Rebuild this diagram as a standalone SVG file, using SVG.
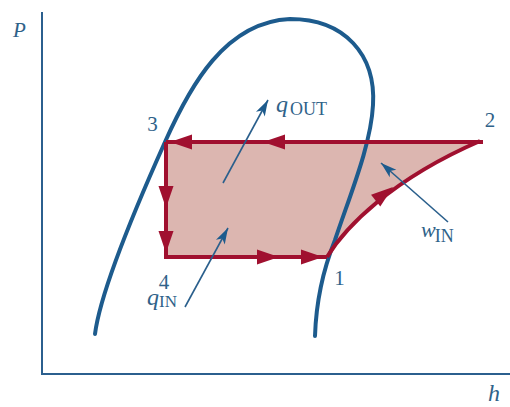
<svg xmlns="http://www.w3.org/2000/svg" xmlns:xlink="http://www.w3.org/1999/xlink" width="510" height="407" viewBox="0 0 510 407">
<style>
.axis{stroke:#2b5f8e;stroke-width:2;fill:none}
.dome{stroke:#1d5b8d;stroke-width:4;fill:none;stroke-linecap:round}
.cyc{stroke:#a0102f;stroke-width:4;fill:none;stroke-linejoin:miter}
.fill{fill:#dcb6b0;stroke:none}
.barrow{stroke:#2a5f8c;stroke-width:1.6;fill:none;marker-end:url(#bm)}
text{font-family:"Liberation Serif","Times New Roman",serif;fill:#2f6289}
.num{font-size:21px;text-anchor:middle}
.it{font-style:italic}
</style>
<defs>
<path id="ra" d="M0,0 L-22,-7.5 L-22,7.5 Z" fill="#a0102f"/>
<marker id="bm" viewBox="-17 -6 18 12" refX="0" refY="0" markerWidth="18" markerHeight="12" markerUnits="userSpaceOnUse" orient="auto">
<path d="M0,0 L-16,-5 L-12,0 L-16,5 Z" fill="#1d5b8d"/>
</marker>
</defs>
<g id="axes">
<line class="axis" x1="42" y1="12" x2="42" y2="375"/>
<line class="axis" x1="41" y1="374" x2="510" y2="374"/>
<text class="it" x="13" y="37" font-size="21">P</text>
<text class="it" x="488" y="401" font-size="24">h</text>
</g>
<g id="region">
<path class="fill" d="M166,142 L483,142 L480,141 C 390,180 345,228 327,257 L166,257 Z"/>
</g>
<g id="dome">
<path class="dome" d="M95,334 C 100,295 130,220 165,142 C 190,86 225,22 290,19 C 345,19 376,55 373,105 C 371,145 350,195 335,240 C 323,270 316,305 315,336"/>
</g>
<g id="connectors">
<path id="c32" class="cyc" d="M483,142 L166,142"/>
<path id="c34" class="cyc" d="M166,142 L166,257"/>
<path id="c41" class="cyc" d="M164,257 L327,257"/>
<path id="c12" class="cyc" d="M327,257 C 345,228 390,180 480,141"/>
<use href="#ra" transform="translate(170,142) rotate(180)"/>
<use href="#ra" transform="translate(263,142) rotate(180)"/>
<use href="#ra" transform="translate(166,208) rotate(90)"/>
<use href="#ra" transform="translate(166,253) rotate(90)"/>
<use href="#ra" transform="translate(279,257)"/>
<use href="#ra" transform="translate(323,257)"/>
<use href="#ra" transform="translate(393,187) rotate(-38)"/>
<line class="barrow" x1="223" y1="183" x2="268" y2="100"/>
<line class="barrow" x1="185" y1="307" x2="228" y2="228"/>
<line class="barrow" x1="448" y1="222" x2="381" y2="163"/>
</g>
<g id="node-1"><text class="num" x="339.5" y="285">1</text></g>
<g id="node-2"><text class="num" x="490" y="127">2</text></g>
<g id="node-3"><text class="num" x="152.5" y="131">3</text></g>
<g id="node-4"><text class="num" x="164" y="289">4</text></g>
<g id="label-qout"><text x="276" y="112"><tspan class="it" font-size="24">q</tspan><tspan font-size="18" dx="2" dy="3">OUT</tspan></text></g>
<g id="label-qin"><text x="147" y="305"><tspan class="it" font-size="24">q</tspan><tspan font-size="17" dx="0" dy="2">IN</tspan></text></g>
<g id="label-win"><text x="421" y="237"><tspan class="it" font-size="22">w</tspan><tspan font-size="18" dx="-1" dy="5">IN</tspan></text></g>
</svg>
